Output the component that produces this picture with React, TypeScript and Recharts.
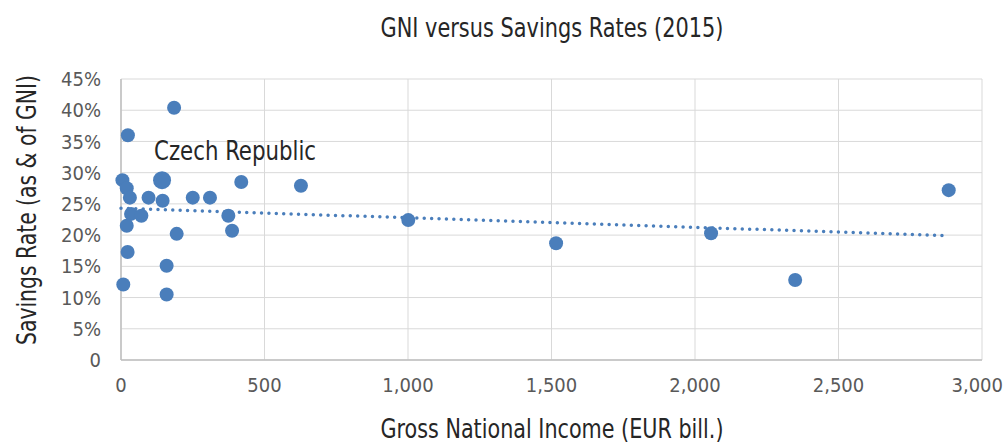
import React from 'react';
import { ScatterChart, Scatter, XAxis, YAxis, CartesianGrid } from 'recharts';

// Gross National Income (EUR bill.)
const gni = [185, 24, 5, 20, 31, 96, 145, 250, 310, 419, 627, 35, 71, 20, 374, 387, 194, 23, 159, 8, 159, 1001, 1516, 2056, 2349, 2884];
// Savings rate (% of GNI)
const rate = [40.4, 36.0, 28.8, 27.5, 26.0, 26.0, 25.5, 26.0, 26.0, 28.5, 27.9, 23.4, 23.1, 21.5, 23.1, 20.7, 20.2, 17.3, 15.1, 12.1, 10.5, 22.4, 18.7, 20.3, 12.8, 27.2];

// Highlighted country
const czechName = 'Czech Republic';
const czechGni = [143];
const czechRate = [28.8];

// Linear trendline endpoints
const trendX = [0, 2884];
const trendY = [24.3, 19.9];

const xTicks = [0, 500, 1000, 1500, 2000, 2500, 3000];
const yTicks = [0, 5, 10, 15, 20, 25, 30, 35, 40, 45];

const points = gni.map((x, i) => ({ x, y: rate[i] }));
const czech = czechGni.map((x, i) => ({ x, y: czechRate[i] }));
const trend = trendX.map((x, i) => ({ x, y: trendY[i] }));

const FONT = "'DejaVu Sans Condensed', 'DejaVu Sans', sans-serif";
const BLUE = '#4a7ebb';
const CHART_W = 1005;

const Dot = (p: any) => <circle cx={p.cx} cy={p.cy} r={7} fill={BLUE} />;
const CzechDot = (p: any) => (
  <g>
    <circle cx={p.cx} cy={p.cy} r={9} fill={BLUE} />
    <text
      x={p.cx - 8}
      y={p.cy - 20}
      fontFamily={FONT}
      fontSize={26}
      fill="#262626"
      textLength={162}
      lengthAdjust="spacingAndGlyphs"
    >
      {czechName}
    </text>
  </g>
);

const XTick = (p: any) => {
  const label = Number(p.payload.value).toLocaleString('en-US');
  const approxW = label.length * 10.5;
  const overflow = p.x + approxW / 2 > CHART_W - 2;
  return (
    <text
      x={overflow ? CHART_W - 2 : p.x}
      y={p.y}
      dy="0.71em"
      textAnchor={overflow ? 'end' : 'middle'}
      fontFamily={FONT}
      fontSize={20}
      fill="#595959"
    >
      {label}
    </text>
  );
};

export default function App() {
  return (
    <div style={{ position: 'absolute', left: 0, top: 0, width: 1005, height: 446, background: '#fff' }}>
      <ScatterChart width={CHART_W} height={446} margin={{ top: 79, right: 23, bottom: 0, left: 0 }}>
        <CartesianGrid stroke="#d9d9d9" strokeWidth={1} />
        <XAxis
          type="number"
          dataKey="x"
          domain={[0, 3000]}
          ticks={xTicks}
          interval={0}
          height={86}
          tickSize={0}
          tickMargin={18}
          axisLine={{ stroke: '#bfbfbf', strokeWidth: 1.5 }}
          tickLine={false}
          tick={<XTick />}
        />
        <YAxis
          type="number"
          dataKey="y"
          domain={[0, 45]}
          ticks={yTicks}
          interval={0}
          width={121}
          tickSize={0}
          tickMargin={20}
          axisLine={{ stroke: '#bfbfbf', strokeWidth: 1.5 }}
          tickLine={false}
          tick={{ fill: '#595959', fontSize: 20, fontFamily: FONT }}
          tickFormatter={(v: number) => (v === 0 ? '0' : `${v}%`)}
        />
        <Scatter
          data={trend}
          line={{ stroke: BLUE, strokeWidth: 3.5, strokeDasharray: '0 7.4', strokeLinecap: 'round' }}
          shape={() => <g />}
          isAnimationActive={false}
        />
        <Scatter data={points} shape={Dot} isAnimationActive={false} />
        <Scatter data={czech} shape={CzechDot} isAnimationActive={false} />
      </ScatterChart>
      <svg
        width={1005}
        height={446}
        style={{ position: 'absolute', left: 0, top: 0, pointerEvents: 'none' }}
      >
        <text
          x={552}
          y={37}
          textAnchor="middle"
          fontFamily={FONT}
          fontSize={26}
          fill="#262626"
          textLength={343}
          lengthAdjust="spacingAndGlyphs"
        >
          GNI versus Savings Rates (2015)
        </text>
        <text
          x={552}
          y={438}
          textAnchor="middle"
          fontFamily={FONT}
          fontSize={26}
          fill="#262626"
          textLength={343}
          lengthAdjust="spacingAndGlyphs"
        >
          Gross National Income (EUR bill.)
        </text>
        <text
          x={36}
          y={210}
          textAnchor="middle"
          transform="rotate(-90 36 210)"
          fontFamily={FONT}
          fontSize={26}
          fill="#262626"
          textLength={270}
          lengthAdjust="spacingAndGlyphs"
        >
          Savings Rate (as &amp; of GNI)
        </text>
      </svg>
    </div>
  );
}
